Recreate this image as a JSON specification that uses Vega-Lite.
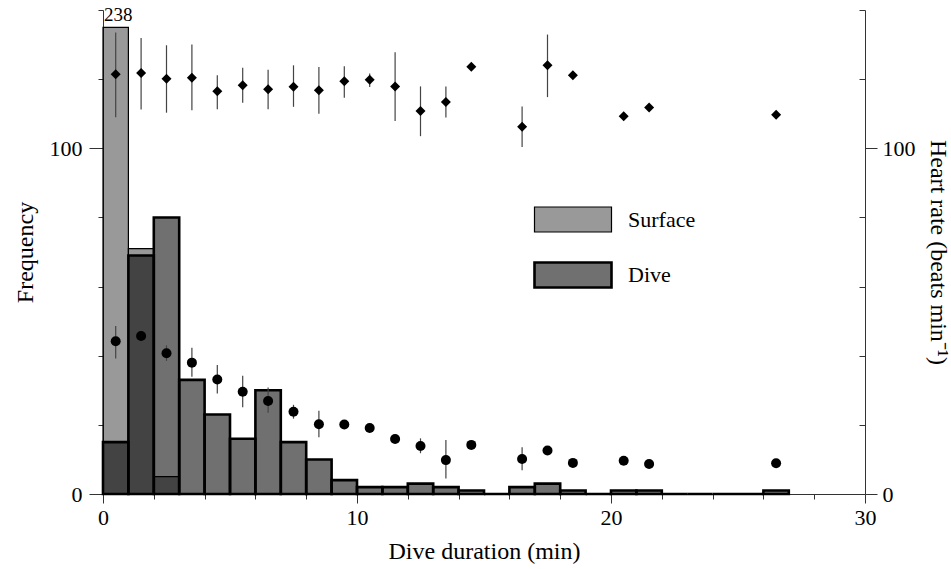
{
  "$schema": "https://vega.github.io/schema/vega-lite/v6.json",
  "width": 762,
  "height": 484,
  "autosize": {"type": "none"},
  "padding": {"left": 103, "top": 10, "right": 86, "bottom": 75},
  "config": {
    "view": {"stroke": null},
    "font": "Liberation Serif, Times New Roman, serif",
    "text": {"font": "Liberation Serif, Times New Roman, serif"},
    "axis": {
      "labelFont": "Liberation Serif, Times New Roman, serif",
      "titleFont": "Liberation Serif, Times New Roman, serif",
      "labelFontSize": 22,
      "titleFontSize": 24,
      "titleFontWeight": "normal",
      "labelColor": "black",
      "titleColor": "black",
      "domainColor": "#333",
      "tickColor": "#333",
      "grid": false,
      "labelOverlap": false,
      "labelFlush": false
    },
    "legend": {
      "labelFont": "Liberation Serif, Times New Roman, serif"
    }
  },
  "datasets": {
    "bins": [
      {"start": 0, "end": 1, "series": "Surface", "count": 238},
      {"start": 1, "end": 2, "series": "Surface", "count": 71},
      {"start": 2, "end": 3, "series": "Surface", "count": 5},
      {"start": 0, "end": 1, "series": "Dive", "count": 15},
      {"start": 1, "end": 2, "series": "Dive", "count": 69},
      {"start": 2, "end": 3, "series": "Dive", "count": 80},
      {"start": 3, "end": 4, "series": "Dive", "count": 33},
      {"start": 4, "end": 5, "series": "Dive", "count": 23},
      {"start": 5, "end": 6, "series": "Dive", "count": 16},
      {"start": 6, "end": 7, "series": "Dive", "count": 30},
      {"start": 7, "end": 8, "series": "Dive", "count": 15},
      {"start": 8, "end": 9, "series": "Dive", "count": 10},
      {"start": 9, "end": 10, "series": "Dive", "count": 4},
      {"start": 10, "end": 11, "series": "Dive", "count": 2},
      {"start": 11, "end": 12, "series": "Dive", "count": 2},
      {"start": 12, "end": 13, "series": "Dive", "count": 3},
      {"start": 13, "end": 14, "series": "Dive", "count": 2},
      {"start": 14, "end": 15, "series": "Dive", "count": 1},
      {"start": 15, "end": 16, "series": "Dive", "count": 0},
      {"start": 16, "end": 17, "series": "Dive", "count": 2},
      {"start": 17, "end": 18, "series": "Dive", "count": 3},
      {"start": 18, "end": 19, "series": "Dive", "count": 1},
      {"start": 19, "end": 20, "series": "Dive", "count": 0},
      {"start": 20, "end": 21, "series": "Dive", "count": 1},
      {"start": 21, "end": 22, "series": "Dive", "count": 1},
      {"start": 22, "end": 23, "series": "Dive", "count": 0},
      {"start": 23, "end": 24, "series": "Dive", "count": 0},
      {"start": 24, "end": 25, "series": "Dive", "count": 0},
      {"start": 25, "end": 26, "series": "Dive", "count": 0},
      {"start": 26, "end": 27, "series": "Dive", "count": 1}
    ],
    "hr": [
      {"x": 0.5, "type": "surface", "hr": 121.4, "lo": 109, "hi": 133.5},
      {"x": 1.5, "type": "surface", "hr": 121.8, "lo": 111.2, "hi": 131.9},
      {"x": 2.5, "type": "surface", "hr": 120.1, "lo": 110.3, "hi": 129.8},
      {"x": 3.5, "type": "surface", "hr": 120.4, "lo": 111, "hi": 130},
      {"x": 4.5, "type": "surface", "hr": 116.5, "lo": 111.3, "hi": 121.1},
      {"x": 5.5, "type": "surface", "hr": 118.2, "lo": 113.2, "hi": 123.3},
      {"x": 6.5, "type": "surface", "hr": 117.1, "lo": 111.3, "hi": 122.7},
      {"x": 7.5, "type": "surface", "hr": 117.8, "lo": 112, "hi": 124},
      {"x": 8.5, "type": "surface", "hr": 116.8, "lo": 110, "hi": 123.5},
      {"x": 9.5, "type": "surface", "hr": 119.4, "lo": 114.6, "hi": 123.7},
      {"x": 10.5, "type": "surface", "hr": 119.8, "lo": 117.7, "hi": 121.6},
      {"x": 11.5, "type": "surface", "hr": 117.9, "lo": 107.9, "hi": 127.8},
      {"x": 12.5, "type": "surface", "hr": 110.8, "lo": 103.5, "hi": 117.9},
      {"x": 13.5, "type": "surface", "hr": 113.4, "lo": 108.9, "hi": 117.9},
      {"x": 14.5, "type": "surface", "hr": 123.6},
      {"x": 16.5, "type": "surface", "hr": 106.2, "lo": 100.4, "hi": 112.1},
      {"x": 17.5, "type": "surface", "hr": 124, "lo": 114.8, "hi": 132.9},
      {"x": 18.5, "type": "surface", "hr": 121.1},
      {"x": 20.5, "type": "surface", "hr": 109.3},
      {"x": 21.5, "type": "surface", "hr": 111.8},
      {"x": 26.5, "type": "surface", "hr": 109.7},
      {"x": 0.5, "type": "dive", "hr": 44.2, "lo": 39.2, "hi": 48.6},
      {"x": 1.5, "type": "dive", "hr": 45.7, "lo": 42.5, "hi": 48.5},
      {"x": 2.5, "type": "dive", "hr": 40.7, "lo": 38.5, "hi": 43},
      {"x": 3.5, "type": "dive", "hr": 38.0, "lo": 33.9, "hi": 42.3},
      {"x": 4.5, "type": "dive", "hr": 33.1, "lo": 29.1, "hi": 37.3},
      {"x": 5.5, "type": "dive", "hr": 29.6, "lo": 25.1, "hi": 34.2},
      {"x": 6.5, "type": "dive", "hr": 26.9, "lo": 23.5, "hi": 30.8},
      {"x": 7.5, "type": "dive", "hr": 23.8, "lo": 21.8, "hi": 25.8},
      {"x": 8.5, "type": "dive", "hr": 20.2, "lo": 16.4, "hi": 24.1},
      {"x": 9.5, "type": "dive", "hr": 20.1, "lo": 19, "hi": 21.2},
      {"x": 10.5, "type": "dive", "hr": 19.1},
      {"x": 11.5, "type": "dive", "hr": 15.9},
      {"x": 12.5, "type": "dive", "hr": 13.9, "lo": 11.8, "hi": 16.1},
      {"x": 13.5, "type": "dive", "hr": 9.8, "lo": 4.5, "hi": 15.6},
      {"x": 14.5, "type": "dive", "hr": 14.2},
      {"x": 16.5, "type": "dive", "hr": 10.1, "lo": 6.9, "hi": 13.5},
      {"x": 17.5, "type": "dive", "hr": 12.6},
      {"x": 18.5, "type": "dive", "hr": 9.0},
      {"x": 20.5, "type": "dive", "hr": 9.6},
      {"x": 21.5, "type": "dive", "hr": 8.7},
      {"x": 26.5, "type": "dive", "hr": 8.9}
    ]
  },
  "layer": [
    {
      "data": {"name": "bins"},
      "layer": [
        {
          "transform": [{"filter": "datum.count > 140"}],
          "mark": {"type": "bar", "stroke": "black"},
          "encoding": {
            "x": {
              "field": "start", "type": "quantitative",
              "title": "Dive duration (min)",
              "scale": {"domain": [0, 30], "nice": false},
              "axis": {
                "values": [0,1,2,3,4,5,6,7,8,9,10,11,12,13,14,15,16,17,18,19,20,21,22,23,24,25,26,27,28,29,30],
                "labelExpr": "datum.value % 5 === 0 ? datum.label : ''",
                "tickSize": {"condition": {"test": "datum.value % 5 === 0", "value": 9}, "value": 5},
                "labelPadding": 4,
                "titlePadding": 11
              }
            },
            "x2": {"field": "end"},
            "y": {
              "datum": 135, "type": "quantitative",
              "title": "Frequency",
              "scale": {"domain": [0, 140], "nice": false},
              "axis": {
                "orient": "left",
                "values": [0,10,20,30,40,50,60,70,80,90,100,110,120,130,140],
                "labelExpr": "datum.value % 50 === 0 ? datum.label : ''",
                "tickSize": {"condition": {"test": "datum.value % 50 === 0", "value": 14}, "value": 5},
                "labelPadding": 7,
                "titlePadding": 12
              }
            },
            "y2": {"datum": 0},
            "color": {
              "field": "series", "type": "nominal",
              "scale": {"domain": ["Surface", "Dive"], "range": ["rgba(0,0,0,0.40)", "rgba(0,0,0,0.56)"]},
              "legend": {
                "orient": "none", "legendX": 430, "legendY": 170, "title": null,
                "symbolType": "M-1,-0.325H1V0.325H-1Z", "symbolSize": 5929,
                "symbolStrokeColor": "black", "symbolStrokeWidth": 1.5,
                "labelFont": "Liberation Serif, Times New Roman, serif", "labelFontSize": 22, "labelColor": "black",
                "labelOffset": 15, "rowPadding": -31, "padding": 0
              }
            },
            "strokeWidth": {
              "field": "series", "type": "nominal",
              "scale": {"domain": ["Surface", "Dive"], "range": [1.2, 2.6]},
              "legend": null
            }
          }
        },
        {
          "transform": [{"filter": "datum.count <= 140"}],
          "mark": {"type": "bar", "stroke": "black"},
          "encoding": {
            "x": {"field": "start", "type": "quantitative", "title": "Dive duration (min)"},
            "x2": {"field": "end"},
            "y": {"field": "count", "type": "quantitative", "title": "Frequency"},
            "y2": {"datum": 0},
            "color": {"field": "series", "type": "nominal"},
            "strokeWidth": {"field": "series", "type": "nominal", "legend": null}
          }
        },
        {
          "transform": [{"filter": "datum.count > 140"}],
          "mark": {"type": "text", "align": "left", "baseline": "alphabetic", "dx": 1, "dy": -6, "fontSize": 19, "font": "Liberation Serif, Times New Roman, serif", "color": "black"},
          "encoding": {
            "x": {"field": "start", "type": "quantitative", "title": "Dive duration (min)"},
            "y": {"datum": 135, "type": "quantitative", "title": "Frequency"},
            "text": {"field": "count", "type": "quantitative"}
          }
        }
      ]
    },
    {
      "data": {"name": "hr"},
      "layer": [
        {
          "mark": {"type": "rule", "strokeWidth": 1.2, "color": "#444"},
          "encoding": {
            "x": {"field": "x", "type": "quantitative", "title": "Dive duration (min)"},
            "y": {
              "field": "lo", "type": "quantitative",
              "title": "Heart rate (beats min⁻¹)",
              "scale": {"domain": [0, 140], "nice": false},
              "axis": {
                "orient": "right",
                "values": [0,10,20,30,40,50,60,70,80,90,100,110,120,130,140],
                "labelExpr": "datum.value % 50 === 0 ? datum.label : ''",
                "tickSize": {"condition": {"test": "datum.value % 50 === 0", "value": 12}, "value": -6},
                "labelPadding": 5,
                "titlePadding": 10
              }
            },
            "y2": {"field": "hi"}
          }
        },
        {
          "mark": {"type": "point", "filled": true, "opacity": 1, "color": "black", "size": 100},
          "encoding": {
            "x": {"field": "x", "type": "quantitative", "title": "Dive duration (min)"},
            "y": {"field": "hr", "type": "quantitative", "title": "Heart rate (beats min⁻¹)"},
            "shape": {
              "field": "type", "type": "nominal",
              "scale": {"domain": ["surface", "dive"], "range": ["diamond", "circle"]},
              "legend": null
            }
          }
        }
      ]
    }
  ],
  "resolve": {"scale": {"y": "independent"}}
}
